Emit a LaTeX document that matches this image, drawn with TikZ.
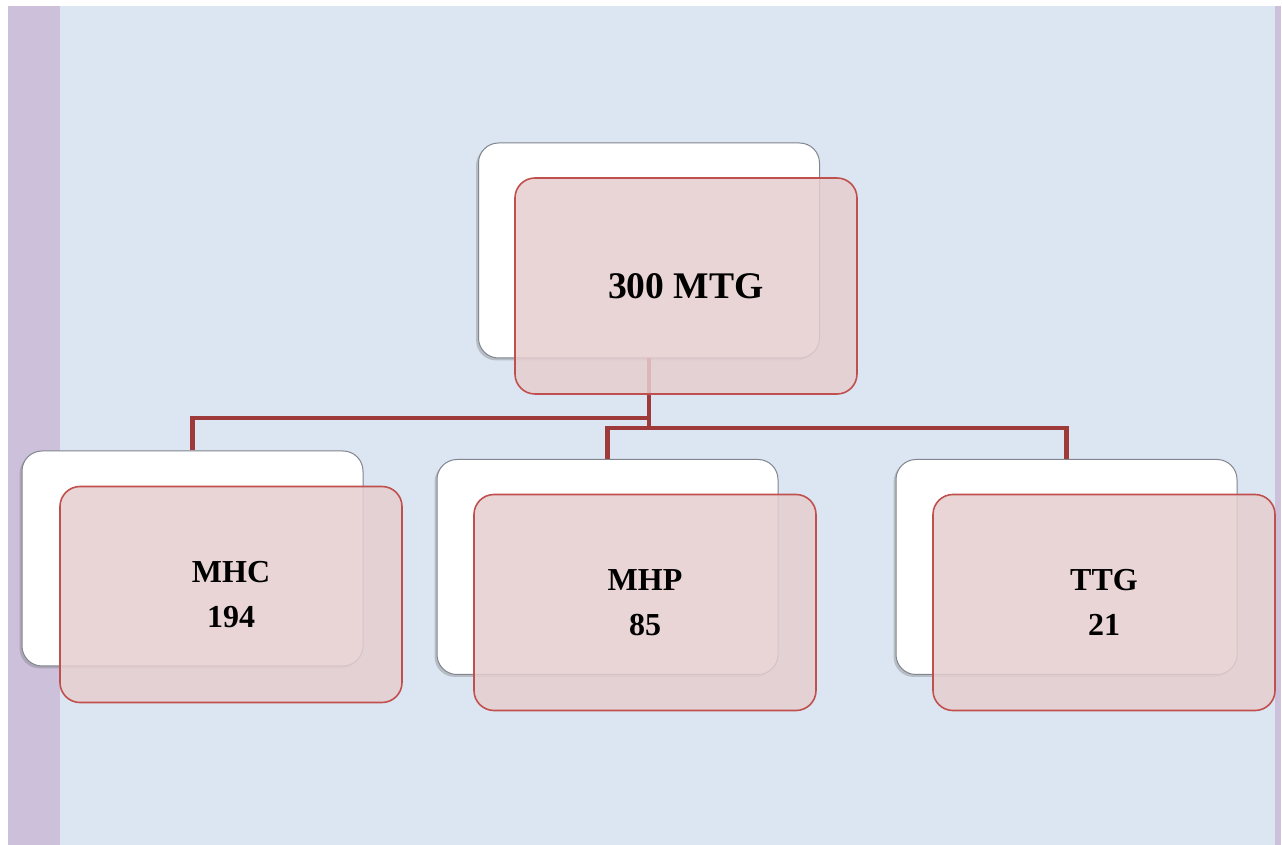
\documentclass[tikz,border=0pt]{standalone}
\usepackage{fontspec}
\setmainfont{Liberation Serif}
\usetikzlibrary{positioning}
\usetikzlibrary{shadows}

\definecolor{bandpurple}{RGB}{204,192,218}
\definecolor{paleblue}{RGB}{220,230,242}
\definecolor{cardedge}{RGB}{128,133,143}
\definecolor{rosefill}{RGB}{230,206,207}
\definecolor{roseedge}{RGB}{192,80,77}
\definecolor{linkred}{RGB}{158,58,58}

\begin{document}
\begin{tikzpicture}[x=0.5pt, y=-0.5pt,
    every node/.style={font=\bfseries},
    backcard/.style={draw=cardedge, line width=0.5pt, fill=white, rounded corners=10pt,
        minimum width=170.5pt, minimum height=107.5pt, inner sep=0pt,
        drop shadow={shadow xshift=-1.2pt, shadow yshift=-1.2pt, opacity=0.4}},
    frontcard/.style={draw=roseedge, line width=0.8pt, fill=rosefill, fill opacity=0.85,
        text opacity=1, rounded corners=10pt, minimum width=171pt, minimum height=108pt,
        inner sep=0pt, align=center},
    link/.style={draw=linkred, line width=2.2pt}]
    % page and side bands
    \useasboundingbox (0,0) rectangle (1282,845);
    \fill[white] (0,0) rectangle (1282,845);
    \fill[bandpurple] (8,6) rectangle (60,845);
    \fill[paleblue] (60,6) rectangle (1275,845);
    \fill[bandpurple] (1275,6) rectangle (1281,845);
    % back cards
    \node[backcard] (mtgback) at (649,250.5) {};
    \node[backcard] (mhcback) at (192.5,558.5) {};
    \node[backcard] (mhpback) at (607.5,567) {};
    \node[backcard] (ttgback) at (1066.5,567) {};
    % connectors
    \coordinate (busl) at (0,418);
    \coordinate (busr) at (0,428);
    \draw[link] (mtgback.south) -- (mtgback.south |- busr);
    \draw[link] (mtgback.south |- busl) -| (mhcback.north);
    \draw[link] (mhpback.north) -- (mhpback.north |- busr) -- (ttgback.north |- busr) -- (ttgback.north);
    % front cards
    \node[frontcard, font=\bfseries\fontsize{18.8}{22}\selectfont] (mtg) at (686,286) {300 MTG};
    \node[frontcard, font=\bfseries\fontsize{16}{22.5}\selectfont] (mhc) at (231,594.5) {MHC\\194};
    \node[frontcard, font=\bfseries\fontsize{16}{22.5}\selectfont] (mhp) at (645,602.5) {MHP\\85};
    \node[frontcard, font=\bfseries\fontsize{16}{22.5}\selectfont] (ttg) at (1104,602.5) {TTG\\21};
\end{tikzpicture}
\end{document}
